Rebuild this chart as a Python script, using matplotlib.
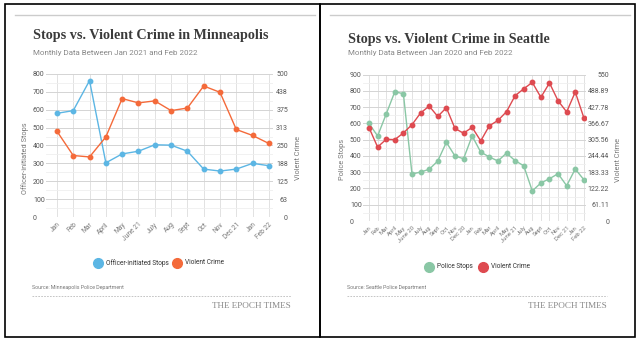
import matplotlib
matplotlib.use("Agg")
import matplotlib.pyplot as plt
from matplotlib.lines import Line2D
from matplotlib.patches import Rectangle
import numpy as np

plt.rcParams["font.family"] = ["Roboto", "DejaVu Sans"]

# Minneapolis, Jan 2021 - Feb 2022
mpls_months = ["Jan", "Feb", "Mar", "April", "May", "June 21", "July", "Aug",
               "Sept", "Oct", "Nov", "Dec 21", "Jan", "Feb 22"]
mpls_stops = [580, 595, 763, 303, 353, 368, 404, 402, 368, 268, 257, 268, 300, 287]
mpls_crime = [300, 215, 210, 280, 414, 399, 406, 372, 381, 458, 436, 306, 285, 257]
mpls_right_ticks = ["0", "63", "125", "188", "250", "313", "375", "438", "500"]

# Seattle, Jan 2020 - Feb 2022
sea_months = ["Jan", "Feb", "Mar", "April", "May", "June 20", "July", "Aug", "Sept",
              "Oct", "Nov", "Dec 20", "Jan", "Feb", "Mar", "April", "May", "June 21",
              "July", "Aug", "Sept", "Oct", "Nov", "Dec 21", "Jan", "Feb 22"]
sea_stops = [600, 523, 658, 795, 783, 289, 301, 318, 369, 484, 400, 383, 523,
             424, 394, 369, 418, 371, 340, 185, 234, 260, 291, 217, 320, 254]
sea_crime = [351, 278, 307, 306, 331, 362, 406, 432, 393, 426, 348, 330, 352,
             301, 358, 378, 411, 471, 497, 521, 465, 519, 452, 410, 485, 388]
sea_right_ticks = ["0", "61.11", "122.22", "183.33", "244.44", "305.56",
                   "366.67", "427.78", "488.89", "550"]

W, H = 638, 340
BLUE, ORANGE = "#5cb6e4", "#f46a3a"
GREEN, RED = "#8ac7a5", "#de4a50"
TEXT, GREY = "#3a3a3a", "#777777"

fig = plt.figure(figsize=(W / 100, H / 100), dpi=100)


def fx(px):
    return px / W


def fy(py):
    return 1 - py / H


def panel(x0, x1):
    fig.patches.append(Rectangle((fx(x0), fy(337)), fx(x1 - x0), (337 - 4) / H,
                                 transform=fig.transFigure, fill=False,
                                 edgecolor="black", linewidth=1.2))
    fig.add_artist(Line2D([fx(x0 + 10), fx(x1 - 5)], [fy(15), fy(15)],
                          color="#cccccc", linewidth=1))


def chart(box, months, left, right, lmax, lstep, rmax, rticks, colors,
          ylabels, left_pad, right_pad, tick_size, label_y, rlabel_x):
    l, r, t, b = box
    ax = fig.add_axes([fx(l), fy(b), fx(r - l), (b - t) / H])
    x = np.arange(len(months))
    n = len(months)
    ax.set_xlim(-(0.7 if n > 20 else 0.67), n - 1 + 0.25)
    ax.set_ylim(0, lmax)
    ax.set_yticks(np.arange(0, lmax + 1, lstep))
    ax.set_yticks(np.arange(lstep / 2, lmax, lstep), minor=True)
    ax.set_xticks(x)
    ax.set_xticklabels(months, rotation=45, ha="right", rotation_mode="anchor",
                       fontsize=tick_size, color=GREY)
    ax.grid(axis="y", which="major", color="#d4d4d4", linewidth=0.7)
    ax.grid(axis="y", which="minor", color="#efefef", linewidth=0.6)
    ax.grid(axis="x", color="#e2e2e2", linewidth=0.7)
    ax.set_axisbelow(True)
    ax.tick_params(length=0, which="both")
    ax.tick_params(axis="x", pad=3)
    ax.tick_params(axis="y", labelsize=5, labelcolor="#555555", pad=left_pad)
    for lab in ax.get_yticklabels():
        lab.set_horizontalalignment("left")
    for s in ax.spines.values():
        s.set_visible(False)

    ax2 = ax.twinx()
    ax2.set_ylim(0, rmax)
    ax2.set_yticks(np.linspace(0, rmax, len(rticks)))
    ax2.set_yticklabels(rticks)
    ax2.tick_params(length=0, labelsize=5, labelcolor="#555555", pad=right_pad)
    for lab in ax2.get_yticklabels():
        lab.set_horizontalalignment("right")
    for s in ax2.spines.values():
        s.set_visible(False)

    ax.plot(x, left, color=colors[0], linewidth=1, marker="o", markersize=3.2,
            zorder=3)
    ax2.plot(x, right, color=colors[1], linewidth=1, marker="o", markersize=3.2,
             zorder=3)

    fig.text(fx(l - 21), fy(label_y), ylabels[0], rotation=90, ha="center",
             va="center", fontsize=5.3, color=GREY)
    fig.text(fx(rlabel_x), fy(label_y), ylabels[1], rotation=90,
             ha="center", va="center", fontsize=5.3, color=GREY)
    return ax


def legend(items, y):
    for cx, color, name in items:
        fig.add_artist(Line2D([fx(cx)], [fy(y)], marker="o", markersize=7,
                              color=color, linestyle="none"))
        fig.text(fx(cx + 8), fy(y), name, ha="left", va="center", fontsize=4.7,
                 color="#333333")


def footer(x0, x1, source):
    fig.text(fx(x0), fy(288), source, ha="left", va="center", fontsize=3.8,
             color=GREY)
    fig.add_artist(Line2D([fx(x0), fx(x1)], [fy(296), fy(296)], color="#bbbbbb",
                          linewidth=0.6, linestyle=(0, (2, 1.5))))
    fig.text(fx(x1), fy(306), "THE EPOCH TIMES", ha="right", va="center",
             fontsize=6.6, color="#888888", family="Liberation Serif")


# Minneapolis panel
panel(5, 320)
fig.text(fx(33), fy(36), "Stops vs. Violent Crime in Minneapolis", fontsize=10.2,
         fontweight="bold", family="Liberation Serif", color=TEXT, va="center")
fig.text(fx(33), fy(53), "Monthly Data Between Jan 2021 and Feb 2022",
         fontsize=5.8, color="#888888", va="center")
chart((46, 273, 74, 217), mpls_months, mpls_stops, mpls_crime, 800, 100, 500,
      mpls_right_ticks, (BLUE, ORANGE),
      ("Officer-initiated Stops", "Violent Crime"), 9.4, 10.8, 4.8, 158, 299)
legend([(98, BLUE, "Officer-initiated Stops"), (177, ORANGE, "Violent Crime")], 263)
footer(32, 291, "Source: Minneapolis Police Department")

# Seattle panel
panel(320, 635)
fig.text(fx(348), fy(39), "Stops vs. Violent Crime in Seattle", fontsize=10.2,
         fontweight="bold", family="Liberation Serif", color=TEXT, va="center")
fig.text(fx(348), fy(53), "Monthly Data Between Jan 2020 and Feb 2022",
         fontsize=5.8, color="#888888", va="center")
chart((363, 586, 74.7, 221), sea_months, sea_stops, sea_crime, 900, 100, 550,
      sea_right_ticks, (GREEN, RED),
      ("Police Stops", "Violent Crime"), 9.4, 16.6, 4.3, 160, 619)
legend([(429, GREEN, "Police Stops"), (483, RED, "Violent Crime")], 267)
footer(347, 607, "Source: Seattle Police Department")

fig.savefig("out.png", dpi=100, facecolor="white")
